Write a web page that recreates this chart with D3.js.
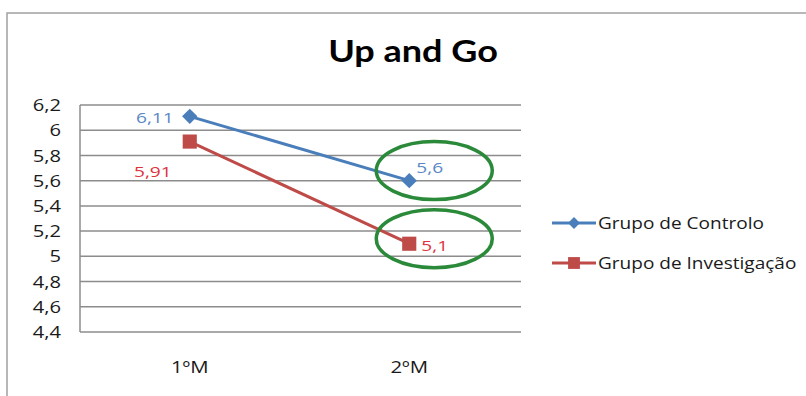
<!DOCTYPE html>
<html><head><meta charset="utf-8">
<script src="https://cdn.jsdelivr.net/npm/d3@7"></script>
<style>body{margin:0;background:#fff}svg{display:block}</style>
</head><body>
<script>
const categories = ["1ºM", "2ºM"];
const seriesNames = ["Grupo de Controlo", "Grupo de Investigação"];
const controlo = [6.11, 5.6];
const investigacao = [5.91, 5.1];
const labelsControlo = ["6,11", "5,6"];
const labelsInvestigacao = ["5,91", "5,1"];
const yTicks = [4.4, 4.6, 4.8, 5, 5.2, 5.4, 5.6, 5.8, 6, 6.2];
const title = "Up and Go";

const W = 806, H = 396;
const svg = d3.select("body").append("svg").attr("width", W).attr("height", H);
const font = "'Open Sans', 'DejaVu Sans', sans-serif";

// horizontally stretch a text element (positioned at x,y) by factor sx
function stretch(sel, sx) {
  sel.each(function() {
    const t = d3.select(this);
    const x0 = +t.attr("x") || 0, y0 = +t.attr("y") || 0;
    t.attr("x", 0).attr("y", 0).attr("transform", `translate(${x0},${y0}) scale(${sx},1)`);
  });
}

// frame
svg.append("rect").attr("x", 7).attr("y", 13).attr("width", 820).attr("height", 400)
  .attr("fill", "none").attr("stroke", "#a0a0a0").attr("stroke-width", 1.5);

const x = d3.scaleBand().domain(categories).range([80, 519]);
const y = d3.scaleLinear().domain([4.4, 6.2]).range([332, 105]);

// grid
svg.append("g").selectAll("line").data(yTicks).join("line")
  .attr("x1", 80).attr("x2", 521)
  .attr("y1", d => y(d)).attr("y2", d => y(d))
  .attr("stroke", "#8c8c8c").attr("stroke-width", 1.5);
svg.append("line").attr("x1", 80).attr("x2", 80).attr("y1", y(6.2)).attr("y2", y(4.4))
  .attr("stroke", "#8c8c8c").attr("stroke-width", 1.5);

// y axis labels
const fmt = d => String(+d.toFixed(1)).replace(".", ",");
const yAxis = d3.axisLeft(y).tickValues(yTicks).tickFormat(fmt).tickSize(0).tickPadding(0);
const ya = svg.append("g").attr("transform", "translate(61,0)").call(yAxis);
ya.select(".domain").remove();
ya.selectAll("text").attr("font-family", font).attr("font-size", 15.5).attr("fill", "#1a1a1a")
  .attr("dy", "0.36em").attr("transform", "scale(1.3,1)");
ya.selectAll(".tick").each(function() {
  const t = d3.select(this); const tr = t.attr("transform");
  t.select("text").attr("transform", "scale(1.3,1)");
});

// x axis labels
const xAxis = d3.axisBottom(x).tickSize(0).tickPadding(0);
const xa = svg.append("g").attr("transform", "translate(0,361)").call(xAxis);
xa.select(".domain").remove();
xa.selectAll("text").attr("font-family", font).attr("font-size", 17).attr("fill", "#1a1a1a")
  .attr("transform", "scale(1.2,1)");

// title
svg.append("text").attr("x", 413).attr("y", 62).attr("text-anchor", "middle")
  .attr("font-family", "Lato, 'Open Sans', sans-serif").attr("font-weight", "bold")
  .attr("font-size", 30).attr("fill", "#000").text(title)
  .call(stretch, 1.2);

const cx = d => x(d) + x.bandwidth() / 2;
const line = d3.line().x((d, i) => cx(categories[i])).y(d => y(d));

const blue = "#4a7ebb", red = "#be4b48";
svg.append("path").datum(investigacao).attr("d", line).attr("fill", "none").attr("stroke", red).attr("stroke-width", 3);
svg.append("path").datum(controlo).attr("d", line).attr("fill", "none").attr("stroke", blue).attr("stroke-width", 3);

const diamond = d3.symbol().type(d3.symbolDiamond2).size(150);
const square = d3.symbol().type(d3.symbolSquare).size(200);

svg.selectAll(".mc").data(controlo).join("path")
  .attr("transform", (d, i) => `translate(${cx(categories[i])},${y(d)})`)
  .attr("d", diamond).attr("fill", blue);
svg.selectAll(".mi").data(investigacao).join("path")
  .attr("transform", (d, i) => `translate(${cx(categories[i])},${y(d)})`)
  .attr("d", square).attr("fill", red);

// data labels
const lblC = [{dx: -16, dy: 7, anchor: "end"}, {dx: 7, dy: -8, anchor: "start"}];
const lblI = [{dx: -18, dy: 35, anchor: "end"}, {dx: 12, dy: 7, anchor: "start"}];
svg.selectAll(".lc").data(controlo).join("text")
  .attr("x", (d, i) => cx(categories[i]) + lblC[i].dx).attr("y", (d, i) => y(d) + lblC[i].dy)
  .attr("text-anchor", (d, i) => lblC[i].anchor)
  .attr("font-family", font).attr("font-size", 14.5).attr("fill", "#5a88c4")
  .text((d, i) => labelsControlo[i]).call(stretch, 1.32);
svg.selectAll(".li").data(investigacao).join("text")
  .attr("x", (d, i) => cx(categories[i]) + lblI[i].dx).attr("y", (d, i) => y(d) + lblI[i].dy)
  .attr("text-anchor", (d, i) => lblI[i].anchor)
  .attr("font-family", font).attr("font-size", 14.5).attr("fill", "#e0303c")
  .text((d, i) => labelsInvestigacao[i]).call(stretch, 1.32);

// green ellipses highlighting second point
const ell = [controlo[1] + 0.08, investigacao[1] + 0.04];
svg.selectAll(".el").data(ell).join("ellipse")
  .attr("cx", cx(categories[1]) + 25).attr("cy", d => y(d))
  .attr("rx", 58).attr("ry", 29)
  .attr("fill", "none").attr("stroke", "#2a8a3a").attr("stroke-width", 3.5);

// legend
const legend = svg.append("g");
const legDiamond = d3.symbol().type(d3.symbolDiamond2).size(90);
const legSquare = d3.symbol().type(d3.symbolSquare).size(140);
const items = [{name: seriesNames[0], color: blue, sym: legDiamond, y: 223},
               {name: seriesNames[1], color: red, sym: legSquare, y: 263}];
items.forEach(it => {
  legend.append("line").attr("x1", 552).attr("x2", 596).attr("y1", it.y).attr("y2", it.y)
    .attr("stroke", it.color).attr("stroke-width", 3);
  legend.append("path").attr("transform", `translate(574,${it.y})`).attr("d", it.sym).attr("fill", it.color);
  legend.append("text").attr("x", 598).attr("y", it.y + 6)
    .attr("font-family", font).attr("font-size", 17).attr("fill", "#1a1a1a").text(it.name)
    .call(stretch, 1.12);
});
</script>
</body></html>
